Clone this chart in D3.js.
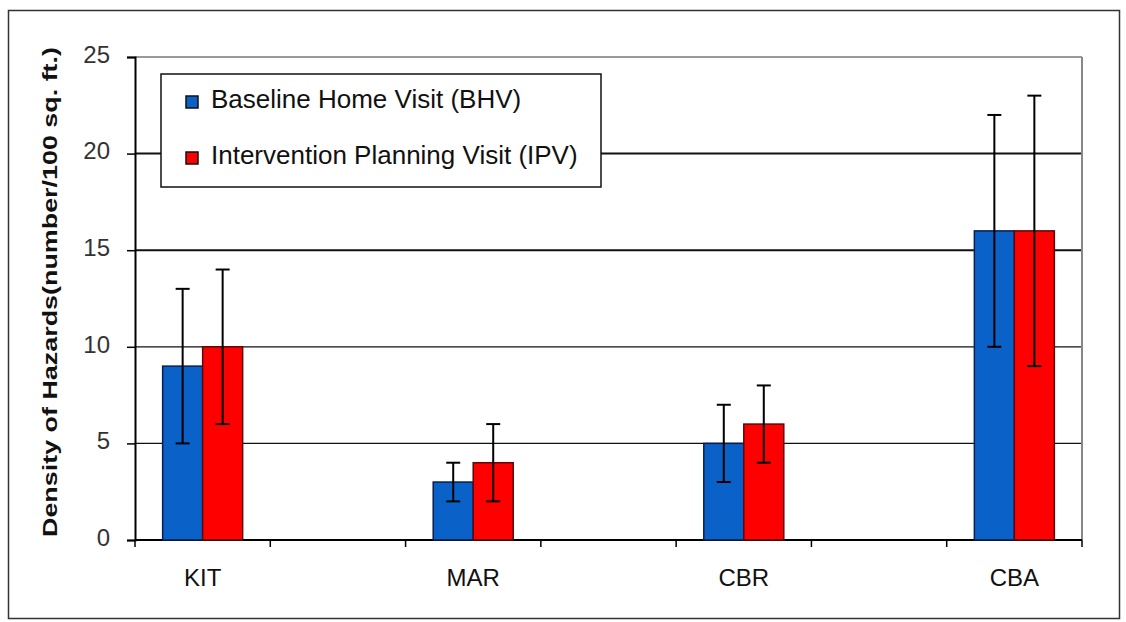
<!DOCTYPE html>
<html><head><meta charset="utf-8">
<script src="https://cdn.jsdelivr.net/npm/d3@7"></script>
<style>body{margin:0;background:#fff}svg{display:block}</style>
</head><body>
<svg id="chart" width="1126" height="622"></svg>
<script>
const categories = ["KIT", "", "MAR", "", "CBR", "", "CBA"];
const seriesNames = ["Baseline Home Visit (BHV)", "Intervention Planning Visit (IPV)"];
const bhvValues = [9, null, 3, null, 5, null, 16];
const ipvValues = [10, null, 4, null, 6, null, 16];
const bhvErrors = [4, null, 1, null, 2, null, 6];
const ipvErrors = [4, null, 2, null, 2, null, 7];
const yTicks = [0, 5, 10, 15, 20, 25];
const colors = ["#0a62c8", "#ff0000"];

(function () {
const svg = d3.select("#chart");
const pLeft = 135, pRight = 1082, pTop = 57, pBottom = 540;
const font = "Liberation Sans, Arial, sans-serif";

// outer frame
svg.append("rect").attr("x", 8.5).attr("y", 10.5).attr("width", 1111).attr("height", 608)
  .attr("fill", "none").attr("stroke", "#333").attr("stroke-width", 1.5);

const x = d3.scaleBand().domain(categories.map((c, i) => i)).range([pLeft, pRight]).padding(0);
const y = d3.scaleLinear().domain([0, 25]).range([pBottom, pTop]);

// gridlines
svg.append("g").selectAll("line").data(yTicks.filter(t => t > 0 && t < 25)).join("line")
  .attr("x1", pLeft).attr("x2", pRight)
  .attr("y1", d => y(d)).attr("y2", d => y(d))
  .attr("stroke", "#111").attr("stroke-width", d => d >= 15 ? 2 : 1.2);

// plot border top & right
svg.append("line").attr("x1", pLeft).attr("x2", pRight).attr("y1", y(25)).attr("y2", y(25))
  .attr("stroke", "#777").attr("stroke-width", 1.5);
svg.append("line").attr("x1", pRight).attr("x2", pRight).attr("y1", y(25)).attr("y2", y(0))
  .attr("stroke", "#888").attr("stroke-width", 2);

// y axis
const yAxis = d3.axisLeft(y).tickValues(yTicks).tickSize(8).tickPadding(17);
const gy = svg.append("g").attr("transform", `translate(${pLeft},0)`).call(yAxis);
gy.select(".domain").attr("stroke", "#000").attr("stroke-width", 2);
gy.selectAll(".tick line").attr("stroke", "#000").attr("stroke-width", 1.5);
gy.selectAll(".tick text").attr("font-family", font)
  .attr("font-size", 24).attr("fill", "#333").attr("dy", "0.22em");

// x axis
const xEdge = d3.scaleLinear().domain([0, categories.length]).range([pLeft, pRight]);
const gx = svg.append("g").attr("transform", `translate(0,${pBottom})`);
gx.append("line").attr("x1", pLeft).attr("x2", pRight).attr("stroke", "#000").attr("stroke-width", 2);
gx.selectAll("line.tk").data(d3.range(categories.length + 1)).join("line").attr("class", "tk")
  .attr("x1", d => xEdge(d)).attr("x2", d => xEdge(d)).attr("y1", 0).attr("y2", 7)
  .attr("stroke", "#000").attr("stroke-width", 1.5);
gx.selectAll("text").data(categories.map((c, i) => ({c, i})).filter(d => d.c)).join("text")
  .attr("x", d => x(d.i) + x.bandwidth() / 2).attr("y", 46)
  .attr("text-anchor", "middle").attr("font-family", font)
  .attr("font-size", 24).attr("fill", "#111").text(d => d.c);

// bars
const barW = 40;
const series = [bhvValues, ipvValues];
const errs = [bhvErrors, ipvErrors];
series.forEach((vals, s) => {
  const data = vals.map((v, i) => ({v, i, e: errs[s][i]})).filter(d => d.v != null);
  const bx = d => x(d.i) + x.bandwidth() / 2 - barW + s * barW;
  svg.append("g").selectAll("rect").data(data).join("rect")
    .attr("x", bx).attr("width", barW)
    .attr("y", d => y(d.v)).attr("height", d => y(0) - y(d.v))
    .attr("fill", colors[s]).attr("stroke", s === 0 ? "#0a1e50" : "#5a0a0a").attr("stroke-width", 1.5);
  const eg = svg.append("g").attr("stroke", "#000").attr("stroke-width", 2);
  data.forEach(d => {
    const cx = bx(d) + barW / 2;
    eg.append("line").attr("x1", cx).attr("x2", cx).attr("y1", y(d.v + d.e)).attr("y2", y(d.v - d.e));
    [d.v + d.e, d.v - d.e].forEach(val => {
      eg.append("line").attr("x1", cx - 7).attr("x2", cx + 7).attr("y1", y(val)).attr("y2", y(val));
    });
  });
});

// y title
svg.append("text").attr("transform", `translate(57,292) rotate(-90)`)
  .attr("text-anchor", "middle").attr("font-family", font)
  .attr("font-weight", "bold").attr("font-size", 21).attr("fill", "#111")
  .attr("textLength", 490).attr("lengthAdjust", "spacingAndGlyphs")
  .text("Density of Hazards(number/100 sq. ft.)");

// legend
const lg = svg.append("g");
lg.append("rect").attr("x", 161).attr("y", 74).attr("width", 440).attr("height", 113)
  .attr("fill", "#fff").attr("stroke", "#111").attr("stroke-width", 1.5);
seriesNames.forEach((n, i) => {
  const base = 108 + i * 56;
  lg.append("rect").attr("x", 186).attr("y", base - 12).attr("width", 12).attr("height", 12)
    .attr("fill", colors[i]).attr("stroke", "#111").attr("stroke-width", 1.5);
  lg.append("text").attr("x", 211).attr("y", base).attr("font-family", font)
    .attr("font-size", 26).attr("fill", "#111").text(n);
});
})();
</script>
</body></html>
